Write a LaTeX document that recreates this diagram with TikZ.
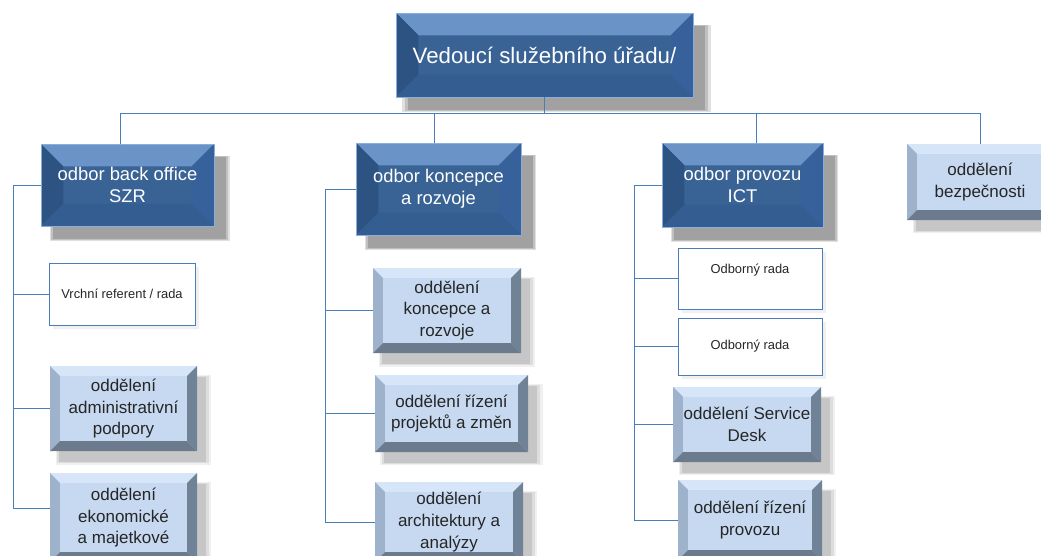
\documentclass[tikz,border=0pt]{standalone}
\usepackage{fontspec}
\setmainfont{Liberation Sans}
\usetikzlibrary{shadows,calc}

\definecolor{linkblue}{HTML}{4A7EBB}
\definecolor{darkmid}{HTML}{3A6395}
\definecolor{darktop}{HTML}{6A94C8}
\definecolor{darkleft}{HTML}{2D5383}
\definecolor{darkright}{HTML}{37619A}
\definecolor{darkbot}{HTML}{345E91}
\definecolor{darkedge}{HTML}{8AAEDC}
\definecolor{lightmid}{HTML}{C6D9F1}
\definecolor{lighttop}{HTML}{D6E5F8}
\definecolor{lightleft}{HTML}{9EB2CB}
\definecolor{lightright}{HTML}{6F8296}
\definecolor{lightbot}{HTML}{6B7A8C}

% box given by its corners in pixels: [style]{name}{x1}{y1}{x2}{y2}{text}
\newcommand\orgbox[7][]{%
  \pgfmathsetmacro\bw{(#5-#3)*0.03}%
  \pgfmathsetmacro\bh{(#6-#4)*0.03}%
  \node[#1,minimum width=\bw cm,minimum height=\bh cm] (#2) at ({(#3+#5)/2},{(#4+#6)/2}) {#7};
}

\tikzset{
  bevel/.style n args={5}{path picture={
    \coordinate (pnw) at (path picture bounding box.north west);
    \coordinate (pne) at (path picture bounding box.north east);
    \coordinate (psw) at (path picture bounding box.south west);
    \coordinate (pse) at (path picture bounding box.south east);
    \fill[#2] (pnw) -- (pne) -- ([shift={(-#1,-#1)}]pne) -- ([shift={(#1,-#1)}]pnw) -- cycle;
    \fill[#3] (pnw) -- ([shift={(#1,-#1)}]pnw) -- ([shift={(#1,#1)}]psw) -- (psw) -- cycle;
    \fill[#4] (pne) -- ([shift={(-#1,-#1)}]pne) -- ([shift={(-#1,#1)}]pse) -- (pse) -- cycle;
    \fill[#5] (psw) -- ([shift={(#1,#1)}]psw) -- ([shift={(-#1,#1)}]pse) -- (pse) -- cycle;
  }},
  darkshadow/.style={
    drop shadow={shadow xshift=10pt,shadow yshift=-11pt,fill=black,opacity=.12,shadow scale=1.04},
    drop shadow={shadow xshift=10pt,shadow yshift=-11pt,fill=black,opacity=.14,shadow scale=1.02},
    drop shadow={shadow xshift=10pt,shadow yshift=-11pt,fill=black,opacity=.16}},
  lightshadow/.style={
    drop shadow={shadow xshift=8pt,shadow yshift=-9pt,fill=black,opacity=.06,shadow scale=1.06},
    drop shadow={shadow xshift=8pt,shadow yshift=-9pt,fill=black,opacity=.08,shadow scale=1.03},
    drop shadow={shadow xshift=8pt,shadow yshift=-9pt,fill=black,opacity=.1}},
  headbox/.style={draw=darkedge,line width=.4pt,fill=darkmid,text=white,
    font=\fontsize{15.7}{19}\selectfont,align=center,inner sep=0pt,outer sep=0pt,
    bevel={19pt}{darktop}{darkleft}{darkright}{darkbot},darkshadow},
  topbox/.style={headbox,font=\fontsize{19}{23}\selectfont},
  unitbox/.style={fill=lightmid,text=black!85,
    font=\fontsize{14.5}{18.5}\selectfont,align=center,inner sep=0pt,outer sep=0pt,
    bevel={8.5pt}{lighttop}{lightleft}{lightright}{lightbot},lightshadow},
  postbox/.style={draw=linkblue,line width=.8pt,fill=white,text=black!85,
    font=\fontsize{11}{13}\selectfont,align=center,inner sep=0pt,outer sep=0pt,
    drop shadow={shadow xshift=3pt,shadow yshift=-3pt,fill=black,opacity=.06}},
  link/.style={draw=linkblue,line width=.8pt},
}

\begin{document}
\begin{tikzpicture}[x=0.03cm,y=-0.03cm]
\useasboundingbox (0,0) rectangle (1041,555);
\clip (0,0) rectangle (1041,555);

% head and the odbory
\orgbox[topbox]{head}{396}{13}{693}{97}{Vedoucí služebního úřadu/}
\orgbox[headbox]{bo}{41}{144}{214}{226}{odbor back office\\SZR}
\orgbox[headbox]{kr}{356}{143}{521}{235}{odbor koncepce\\a rozvoje}
\orgbox[headbox]{ict}{662}{143}{823}{227}{odbor provozu\\ICT}
\orgbox[unitbox]{bez}{907}{144}{1053}{220}{oddělení\\bezpečnosti}

% back office
\orgbox[postbox]{bo-ref}{49}{263}{195}{325}{Vrchní referent / rada}
\orgbox[unitbox]{bo-adm}{50}{366}{197}{451}{oddělení\\administrativní\\podpory}
\orgbox[unitbox]{bo-eko}{50}{473}{197}{562}{oddělení\\ekonomické\\a majetkové}

% koncepce a rozvoj
\orgbox[unitbox]{kr-kon}{373}{268}{521}{353}{oddělení\\koncepce a\\rozvoje}
\orgbox[unitbox]{kr-pro}{375}{375}{528}{452}{oddělení řízení\\projektů a změn}
\orgbox[unitbox]{kr-arch}{375}{482}{523}{562}{oddělení\\architektury a\\analýzy}

% provoz ICT
\orgbox[postbox]{ict-or1}{678}{248}{822}{309}{\raisebox{16pt}{Odborný rada}}
\orgbox[postbox]{ict-or2}{678}{318}{822}{375}{Odborný rada}
\orgbox[unitbox]{ict-sd}{673}{387}{821}{462}{oddělení Service\\Desk}
\orgbox[unitbox]{ict-rp}{678}{480}{822}{560}{oddělení řízení\\provozu}

% bus under the head
\coordinate (bus) at (544,113);
\coordinate (d1) at ($(bo.north)+(-7.5,0)$);
\coordinate (d2) at ($(kr.north)+(-4,0)$);
\coordinate (d3) at ($(ict.north)+(14,0)$);
\draw[link] (head.south) -- (head.south|-bus);
\draw[link] (d1) |- (bez.north|-bus) -- (bez.north);
\draw[link] (d2) -- (d2|-bus);
\draw[link] (d3) -- (d3|-bus);

% columns
\coordinate (c1) at (13,0);
\coordinate (c2) at (325,0);
\coordinate (c3) at (634,0);
\coordinate (e-eko) at ($(bo-eko.west)+(0,-9)$);
\draw[link] (bo.west) -| (c1|-e-eko) -- (e-eko);
\foreach \n in {bo-ref,bo-adm} \draw[link] (c1|-\n.west) -- (\n.west);
\draw[link] (kr.west) -| (c2|-kr-arch.west) -- (kr-arch.west);
\foreach \n in {kr-kon,kr-pro} \draw[link] (c2|-\n.west) -- (\n.west);
\draw[link] (ict.west) -| (c3|-ict-rp.west) -- (ict-rp.west);
\foreach \n in {ict-or1,ict-or2,ict-sd} \draw[link] (c3|-\n.west) -- (\n.west);
\end{tikzpicture}
\end{document}
